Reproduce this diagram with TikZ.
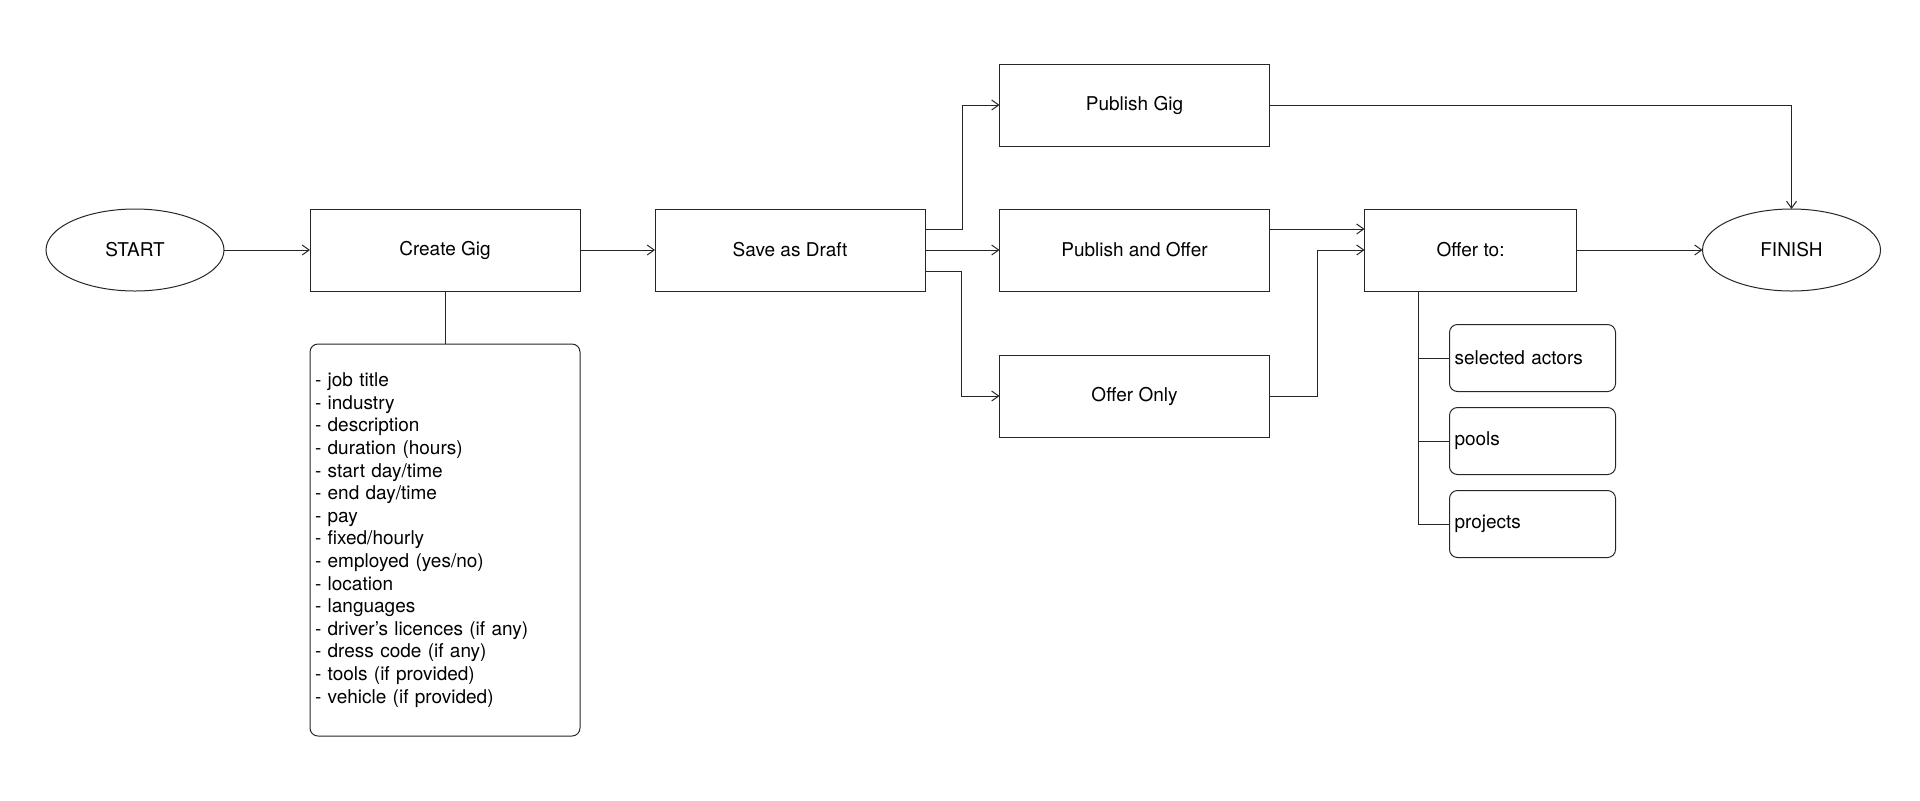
\documentclass[tikz,border=0pt]{standalone}
\usepackage{fontspec}
\setmainfont{TeX Gyre Heros}
\usepackage{tikz}
\usetikzlibrary{shapes.geometric, arrows.meta, positioning, calc}

\begin{document}
\begin{tikzpicture}[
      x=0.5pt, y=-0.5pt,
      every node/.style={draw=black!85, line width=0.5pt, outer sep=0pt, text centered, font=\fontsize{9.5}{11.3}\selectfont},
        stepbox/.style={rectangle, minimum width=135pt, minimum height=41pt},
        endpoint/.style={ellipse, minimum width=89pt, minimum height=41pt},
        listbox/.style={rectangle, rounded corners=4pt, align=left, inner sep=2.5pt},
        arrow/.style={draw=black!85, line width=0.5pt,-{Straight Barb[length=3.5pt,width=5pt]}},
        line/.style={draw=black!85, line width=0.5pt}
          ]
        \useasboundingbox (0,0) rectangle (1920,800);

        % Start and the main line
        \node (start) [endpoint] at (135,250) {START};
        \node (create) [stepbox, right=43pt of start] {Create Gig};
        \node (save) [stepbox, right=37.5pt of create] {Save as Draft};

        % Gig details
        \node (details) [listbox, below=26.5pt of create, text width=130pt, minimum height=196pt] {- job title\\- industry\\- description\\- duration (hours)\\- start day/time\\- end day/time\\- pay\\- fixed/hourly\\- employed (yes/no)\\- location\\- languages\\- driver’s licences (if any)\\- dress code (if any)\\- tools (if provided)\\- vehicle (if provided)};

        % Publishing options
        \node (puboffer) [stepbox, right=37.25pt of save] {Publish and Offer};
        \node (pubgig) [stepbox, above=31.5pt of puboffer] {Publish Gig};
        \node (offeronly) [stepbox, below=32pt of puboffer] {Offer Only};

        % Offer targets
        \node (offerto) [stepbox, right=47.5pt of puboffer, minimum width=106pt] {Offer to:};
        \node (actors) [listbox, below right=16.75pt and 42.5pt of offerto.south west, text width=78pt, minimum height=33.5pt] {selected actors};
        \node (pools) [listbox, below=8pt of actors, text width=78pt, minimum height=33.5pt] {pools};
        \node (projects) [listbox, below=8pt of pools, text width=78pt, minimum height=33.5pt] {projects};

        % Finish
        \node (finish) [endpoint, right=63pt of offerto] {FINISH};

        % Arrows
        \draw [arrow] (start.east) -- (create.west);
        \draw [arrow] (create.east) -- (save.west);
        \draw [line] (create.south) -- (details.north);

        \draw [arrow] ([yshift=10.5pt]save.east) -- ++(18.5pt,0) |- (pubgig.west);
        \draw [arrow] (save.east) -- (puboffer.west);
        \draw [arrow] ([yshift=-10.5pt]save.east) -- ++(18pt,0) |- (offeronly.west);

        \draw [arrow] ([yshift=10.5pt]puboffer.east) -- ([yshift=10.5pt]offerto.west);
        \draw [arrow] (offeronly.east) -- ++(24pt,0) |- (offerto.west);

        \draw [line] ([xshift=27pt]offerto.south west) |- (actors.west);
        \draw [line] ([xshift=27pt]offerto.south west) |- (pools.west);
        \draw [line] ([xshift=27pt]offerto.south west) |- (projects.west);

        \draw [arrow] (offerto.east) -- (finish.west);
        \draw [arrow] (pubgig.east) -| (finish.north);

          \end{tikzpicture}
\end{document}
